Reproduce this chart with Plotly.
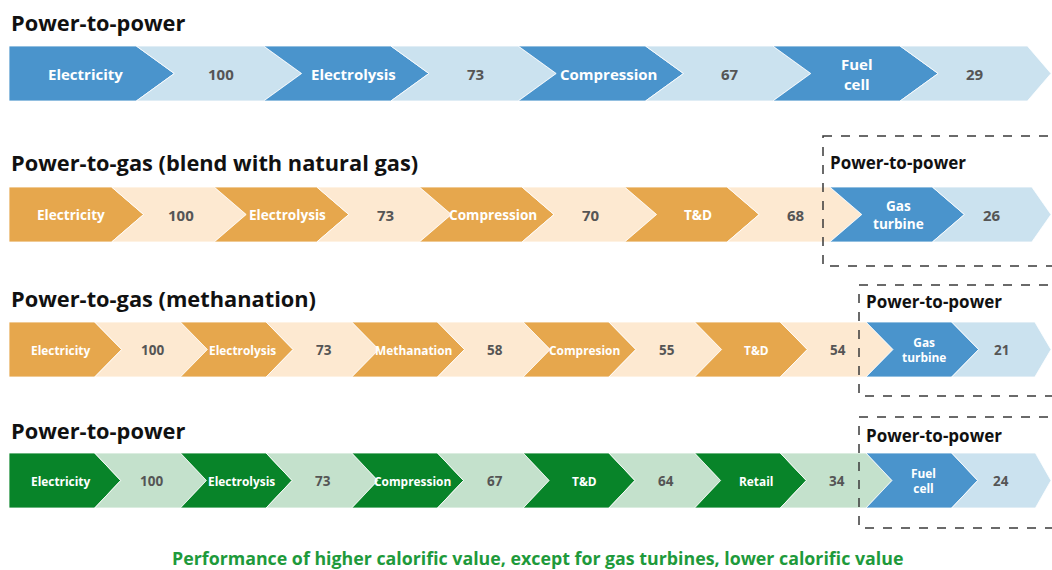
import plotly.graph_objects as go

# ---------------- data ----------------
titles = ["Power-to-power", "Power-to-gas (blend with natural gas)",
          "Power-to-gas (methanation)", "Power-to-power"]
box_title = "Power-to-power"
footer = "Performance of higher calorific value, except for gas turbines, lower calorific value"

row1_steps = ["Electricity", "Electrolysis", "Compression", "Fuel<br>cell"]
row1_values = [100, 73, 67, 29]

row2_steps = ["Electricity", "Electrolysis", "Compression", "T&D"]
row2_values = [100, 73, 70, 68]
row2_p2p_steps = ["Gas<br>turbine"]
row2_p2p_values = [26]

row3_steps = ["Electricity", "Electrolysis", "Methanation", "Compresion", "T&D"]
row3_values = [100, 73, 58, 55, 54]
row3_p2p_steps = ["Gas<br>turbine"]
row3_p2p_values = [21]

row4_steps = ["Electricity", "Electrolysis", "Compression", "T&D", "Retail"]
row4_values = [100, 73, 67, 64, 34]
row4_p2p_steps = ["Fuel<br>cell"]
row4_p2p_values = [24]

# ---------------- styling / layout ----------------
BLUE, LBLUE = "#4a94cc", "#cbe2ef"
ORANGE, LORANGE = "#e6a74d", "#fde9d1"
GREEN, LGREEN = "#088429", "#c4e1cc"
VALC = "#555555"
FONT = "Open Sans"
W, H = 1052, 570
RIGHT_END = 1051

rows = [
    dict(steps=row1_steps, values=row1_values, p2p_steps=[], p2p_values=[],
         top=46, bot=101, w=127.3, d=38, dark=BLUE, light=LBLUE,
         lab=15, val=15, title_y=22, box=None),
    dict(steps=row2_steps, values=row2_values, p2p_steps=row2_p2p_steps, p2p_values=row2_p2p_values,
         top=187, bot=242, w=102.6, d=32, dark=ORANGE, light=LORANGE,
         lab=13.6, val=15, title_y=162, box=(823, 136, 266, 162)),
    dict(steps=row3_steps, values=row3_values, p2p_steps=row3_p2p_steps, p2p_values=row3_p2p_values,
         top=322, bot=377, w=85.7, d=27, dark=ORANGE, light=LORANGE,
         lab=11.9, val=13.5, title_y=298, box=(859, 285, 396, 301)),
    dict(steps=row4_steps, values=row4_values, p2p_steps=row4_p2p_steps, p2p_values=row4_p2p_values,
         top=453, bot=508, w=85.7, d=26, dark=GREEN, light=LGREEN,
         lab=11.9, val=13.5, title_y=430, box=(859, 417, 528, 435)),
]

fig = go.Figure()
annotations = []
shapes = []


def chevron(x0, x1, tip, top, bot, d, first):
    mid = (top + bot) / 2
    if first:
        xs = [x0, x1, tip, x1, x0, x0]
        ys = [top, top, mid, bot, bot, top]
    else:
        xs = [x0, x1, tip, x1, x0, x0 + d, x0]
        ys = [top, top, mid, bot, bot, mid, top]
    return xs, ys


def add_text(x, y, text, size, color):
    annotations.append(dict(x=x, y=y, xref="x", yref="y", text=text, showarrow=False,
                            xanchor="center", yanchor="middle",
                            font=dict(family=FONT, size=size, color=color, weight=700)))


for r in rows:
    seq = []
    for s, v in zip(r["steps"], r["values"]):
        seq.append((s, r["dark"], "white", r["lab"], True))
        seq.append((str(v), r["light"], VALC, r["val"], False))
    for s, v in zip(r["p2p_steps"], r["p2p_values"]):
        seq.append((s, BLUE, "white", r["lab"], True))
        seq.append((str(v), LBLUE, VALC, r["val"], False))
    n = len(seq)
    w, d = r["w"], r["d"]
    for i, (txt, fill, tcol, size, is_label) in enumerate(seq):
        x0 = 9 + i * w
        x1 = x0 + w
        tip = x1 + d
        last = i == n - 1
        if last:
            x1 = min(x1, RIGHT_END - 0.6 * d)
            tip = RIGHT_END
        xs, ys = chevron(x0, x1, tip, r["top"], r["bot"], d, i == 0)
        fig.add_trace(go.Scatter(x=xs, y=ys, mode="lines", fill="toself",
                                 fillcolor=fill, line=dict(color="rgba(255,255,255,0.8)", width=1),
                                 hoverinfo="skip", showlegend=False))
        if i == 0:
            cx = (x0 + x1) / 2 + d / 3
        elif last:
            cx = (x0 + 0.6 * d + x1) / 2
        elif is_label and "<br>" in txt:
            cx = x0 + w / 2 + 0.55 * d
        elif is_label:
            cx = x0 + w / 2 + 0.7 * d
        else:
            cx = x0 + w / 2 + 0.55 * d
        add_text(cx, (r["top"] + r["bot"]) / 2, txt, size, tcol)

for r, t in zip(rows, titles):
    annotations.append(dict(x=9, y=r["title_y"], xref="x", yref="y", text=t, showarrow=False,
                            xanchor="left", yanchor="middle",
                            font=dict(family=FONT, size=21.8, color="#111111", weight=700)))
    if r["box"]:
        bx, by0, by1, ty = r["box"]
        shapes.append(dict(type="rect", xref="x", yref="y", x0=bx, x1=W + 20, y0=by0, y1=by1,
                           line=dict(color="#3a3a3a", width=1.5, dash="dash"),
                           fillcolor="rgba(0,0,0,0)"))
        annotations.append(dict(x=bx + 5, y=ty, xref="x", yref="y", text=box_title, showarrow=False,
                                xanchor="left", yanchor="middle",
                                font=dict(family=FONT, size=17, color="#111111", weight=700)))

annotations.append(dict(x=537, y=558, xref="x", yref="y", text=footer, showarrow=False,
                        xanchor="center", yanchor="middle",
                        font=dict(family=FONT, size=17.8, color="#1e9a3b", weight=700)))

fig.update_layout(
    width=W, height=H, margin=dict(l=0, r=0, t=0, b=0),
    paper_bgcolor="white", plot_bgcolor="white",
    xaxis=dict(range=[0, W], visible=False, fixedrange=True),
    yaxis=dict(range=[H, 0], visible=False, fixedrange=True),
    annotations=annotations, shapes=shapes,
)

fig.write_html("out.html")
